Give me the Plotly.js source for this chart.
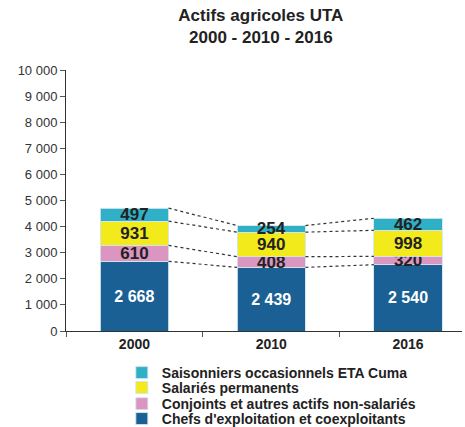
<!DOCTYPE html>
<html><head><meta charset="utf-8">
<script src="https://cdn.plot.ly/plotly-3.0.1.min.js"></script>
<style>body{margin:0;background:#fff}#c{width:465px;height:427px}</style>
</head><body><div id="c"></div>
<script>
const years = ['2000', '2010', '2016'];
const chefs = [2668, 2439, 2540];
const conjoints = [610, 408, 320];
const salaries = [931, 940, 998];
const saisonniers = [497, 254, 462];
const seriesNames = ['Chefs d\'exploitation et coexploitants', 'Conjoints et autres actifs non-salariés', 'Salariés permanents', 'Saisonniers occasionnels ETA Cuma'];
const yTicks = [0,1000,2000,3000,4000,5000,6000,7000,8000,9000,10000];

const FONT = '"Liberation Sans", Arial, sans-serif';
const series = [chefs, conjoints, salaries, saisonniers];
const colors = ['#1a6094', '#dc94c0', '#f3ea1c', '#30b0c6'];
const textColors = ['#ffffff', '#222222', '#222222', '#222222'];
const legendIds = ['legend4', 'legend3', 'legend2', 'legend'];
const traces = series.map((vals, i) => ({
  type: 'bar', x: years, y: vals, name: seriesNames[i], legend: legendIds[i],
  marker: {color: colors[i], line: {color: 'rgba(210,230,238,0.9)', width: 1}},
  text: vals, texttemplate: '%{y:,}', textposition: 'inside', insidetextanchor: 'middle',
  constraintext: 'none', cliponaxis: false,
  textfont: {family: FONT, size: i === 0 ? 16 : 17, color: textColors[i], weight: 'bold'},
  width: 0.5, hoverinfo: 'none'
}));

const shapes = [];
const cum = years.map((_, j) => { let s = 0; return series.map(v => (s += v[j])); });
for (let j = 0; j < years.length - 1; j++) {
  for (let k = 0; k < series.length; k++) {
    shapes.push({type: 'line', xref: 'x', yref: 'y', x0: j + 0.25, x1: j + 0.75,
      y0: cum[j][k], y1: cum[j + 1][k], line: {color: '#333', width: 1.2, dash: 'dot'}});
  }
}

const legendBase = (y) => ({x: 0.141, xanchor: 'left', y: y, yanchor: 'middle', itemwidth: 30,
  font: {family: FONT, size: 14, color: '#222', weight: 'bold'}, bgcolor: 'rgba(0,0,0,0)'});

const layout = {
  width: 465, height: 427, barmode: 'stack', separators: ', ',
  margin: {l: 66, r: 3, t: 70, b: 96, autoexpand: false},
  paper_bgcolor: '#fff', plot_bgcolor: '#fff',
  font: {family: FONT, color: '#222'},
  title: {text: '<b>Actifs agricoles UTA<br>2000 - 2010 - 2016</b>', x: 0.561, xanchor: 'center', y: 0.95,
    font: {family: FONT, size: 17, color: '#222'}},
  xaxis: {type: 'category', range: [-0.5, 2.394], showline: true, linecolor: '#333', linewidth: 1,
    ticks: 'outside', tickson: 'boundaries', ticklen: 5, tickcolor: '#555',
    tickfont: {family: FONT, size: 14, color: '#222', weight: 'bold'}, showgrid: false, zeroline: false, fixedrange: true},
  yaxis: {range: [0, 10000], tickvals: yTicks, tickformat: ',d', showline: true, linecolor: '#333', linewidth: 1,
    ticks: 'outside', ticklen: 5, tickcolor: '#555', tickfont: {family: FONT, size: 13, color: '#333'},
    showgrid: false, zeroline: false, fixedrange: true},
  legend: legendBase(-0.161),
  legend2: legendBase(-0.218),
  legend3: legendBase(-0.280),
  legend4: legendBase(-0.337),
  shapes: shapes, showlegend: true
};
Plotly.newPlot('c', traces, layout, {displayModeBar: false, staticPlot: true});
</script></body></html>
